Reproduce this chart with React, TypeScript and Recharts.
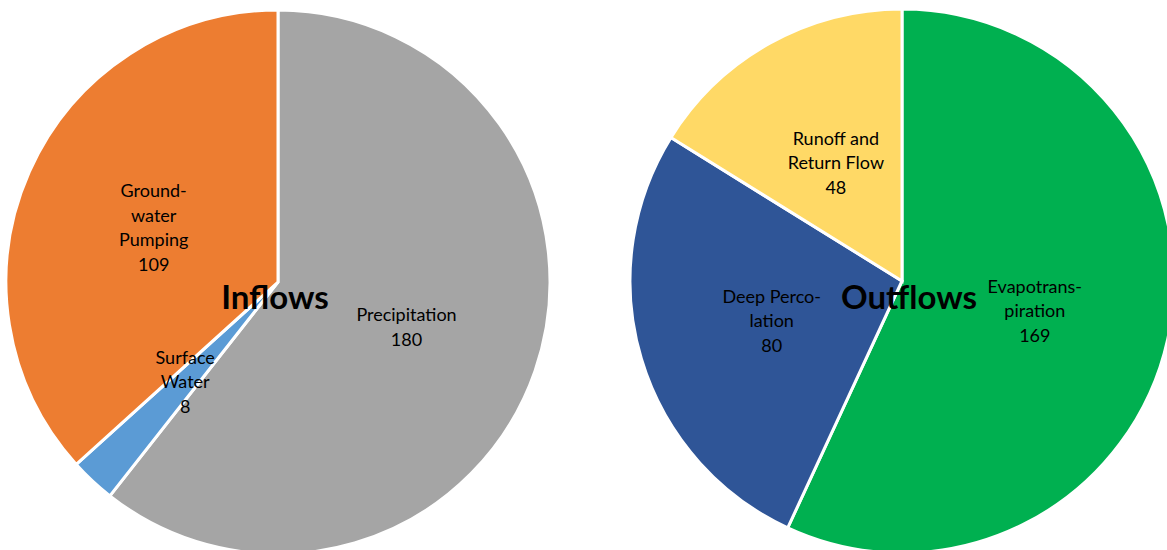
import { PieChart, Pie, Cell } from "recharts";

const inflowNames = ["Precipitation", "Surface Water", "Groundwater Pumping"];
const inflowValues = [180, 8, 109];
const inflowLabels = [["Precipitation"], ["Surface", "Water"], ["Ground-", "water", "Pumping"]];
const inflowColors = ["#A5A5A5", "#5B9BD5", "#ED7D31"];

const outflowNames = ["Evapotranspiration", "Deep Percolation", "Runoff and Return Flow"];
const outflowValues = [169, 80, 48];
const outflowLabels = [["Evapotrans-", "piration"], ["Deep Perco-", "lation"], ["Runoff and", "Return Flow"]];
const outflowColors = ["#00B050", "#2F5597", "#FFD966"];

const RAD = Math.PI / 180;
const FONT = "Lato, 'Open Sans', sans-serif";

const inflowData = inflowNames.map((name, i) => ({ name, value: inflowValues[i], lines: inflowLabels[i] }));
const outflowData = outflowNames.map((name, i) => ({ name, value: outflowValues[i], lines: outflowLabels[i] }));

// multi-line label, placed half way out along the slice's middle angle
const renderLabel = (props: any) => {
  const { cx, cy, midAngle, outerRadius, payload, value } = props;
  const r = outerRadius * 0.5;
  const x = cx + r * Math.cos(-midAngle * RAD);
  const y = cy + r * Math.sin(-midAngle * RAD);
  const lines: string[] = [...(payload?.lines ?? []), String(value)];
  const lh = 24.5;
  const y0 = y - ((lines.length - 1) * lh) / 2;
  return (
    <text x={x} y={y0} textAnchor="middle" dominantBaseline="central" fill="#000" fontSize={18} fontFamily={FONT}>
      {lines.map((l, i) => (
        <tspan key={i} x={x} dy={i === 0 ? 0 : lh}>
          {l}
        </tspan>
      ))}
    </text>
  );
};

const titleStyle: React.CSSProperties = {
  position: "absolute",
  fontFamily: FONT,
  fontWeight: 700,
  fontSize: 33,
  color: "#000",
  transform: "translate(-50%, -50%)",
  whiteSpace: "nowrap",
  lineHeight: 1,
};

export default function App() {
  return (
    <div style={{ position: "absolute", left: 0, top: 0, width: 1167, height: 550, overflow: "hidden", background: "#fff" }}>
      <PieChart width={1167} height={550} margin={{ top: 0, right: 0, bottom: 0, left: 0 }}>
        <Pie
          data={inflowData}
          dataKey="value"
          nameKey="name"
          cx={278}
          cy={282}
          outerRadius={272}
          startAngle={90}
          endAngle={-270}
          stroke="#fff"
          strokeWidth={3}
          label={renderLabel}
          labelLine={false}
          isAnimationActive={false}
        >
          {inflowData.map((d, i) => (
            <Cell key={d.name} fill={inflowColors[i]} />
          ))}
        </Pie>
        <Pie
          data={outflowData}
          dataKey="value"
          nameKey="name"
          cx={902}
          cy={281}
          outerRadius={272}
          startAngle={90}
          endAngle={-270}
          stroke="#fff"
          strokeWidth={3}
          label={renderLabel}
          labelLine={false}
          isAnimationActive={false}
        >
          {outflowData.map((d, i) => (
            <Cell key={d.name} fill={outflowColors[i]} />
          ))}
        </Pie>
      </PieChart>
      <div style={{ ...titleStyle, left: 275, top: 296 }}>Inflows</div>
      <div style={{ ...titleStyle, left: 909, top: 296 }}>Outflows</div>
    </div>
  );
}
